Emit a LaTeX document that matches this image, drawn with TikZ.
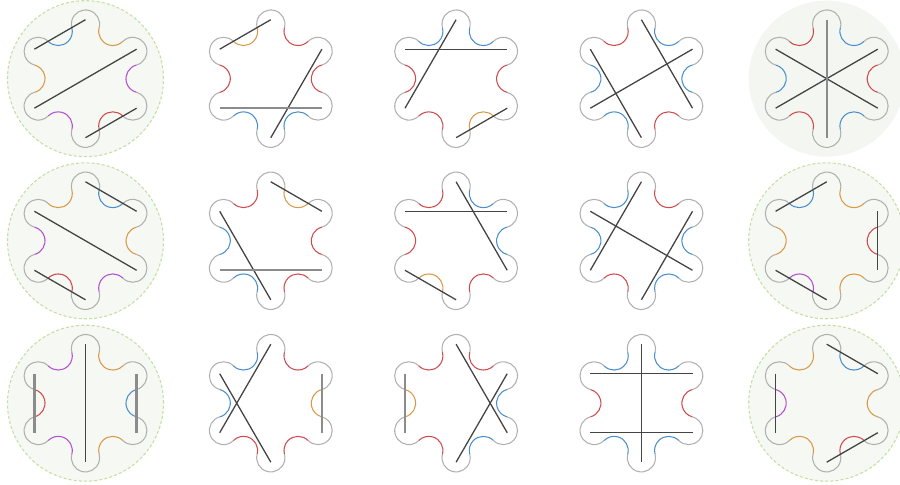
\documentclass[tikz,border=0pt]{standalone}
\usepackage{xcolor}
\usepackage{tikz}
\usetikzlibrary{calc}

\definecolor{lobegray}{HTML}{B0B0B0}
\definecolor{dblue}{HTML}{4A8FCC}
\definecolor{dorange}{HTML}{D99A48}
\definecolor{dred}{HTML}{D04A4C}
\definecolor{dpurple}{HTML}{B24FD2}
\definecolor{chordink}{HTML}{444444}
\definecolor{chordgray}{HTML}{8C8C8C}
\definecolor{platefill}{HTML}{F6F8F3}
\definecolor{plateline}{HTML}{C3DFA2}
\definecolor{softfill}{HTML}{F4F6F1}

\newcommand{\Rlobe}{54.6}
\newcommand{\rlobe}{14.13}
\newcommand{\Rend}{59}

% #1 centre name, #2..#7 dents at 60,0,-60,-120,180,120
\newcommand{\flower}[7]{%
  \foreach \a [count=\i] in {90,30,-30,-90,-150,150}{
    \draw[lobe] ($(#1)+(\a:\Rlobe)+(\a-105:\rlobe)$)
      arc[start angle=\a-105, delta angle=210, radius=\rlobe];
    \coordinate (#1-\i) at ($(#1)+(\a:\Rend)$);
  }
  \foreach \a/\c in {60/#2, 0/#3, -60/#4, -120/#5, 180/#6, 120/#7}{
    \draw[dent, \c] ($(#1)+(\a:\Rlobe)+(\a+105:\rlobe)$)
      arc[start angle=\a+105, delta angle=150, radius=\rlobe];
  }
}

\begin{document}
\begin{tikzpicture}[
  x=0.03cm, y=0.03cm,
  lobe/.style={lobegray, line width=0.9pt},
  dent/.style={line width=0.9pt},
  chord/.style={chordink, line width=1.1pt},
  thickchord/.style={chordgray, line width=1.9pt},
  plate/.style={fill=platefill, draw=plateline, line width=0.9pt,
                dash pattern=on 2.6pt off 1.8pt},
  softplate/.style={fill=softfill},
]
\useasboundingbox (0,0) rectangle (900,485);

\foreach \row/\y in {a/406.3, b/244.2, c/81.8}
  \foreach \col/\x in {1/85.5, 2/270.8, 3/456.1, 4/641.4, 5/826.7}
    \coordinate (\row\col) at (\x,\y);

\foreach \p in {a1, b1, b5, c1, c5}{ \draw[plate] (\p) circle[radius=78]; }
\fill[softplate] (a5) circle[radius=78];

\flower{a1}{dorange}{dpurple}{dred}{dpurple}{dorange}{dblue}
\flower{a2}{dred}{dred}{dblue}{dblue}{dred}{dorange}
\flower{a3}{dblue}{dred}{dorange}{dred}{dred}{dblue}
\flower{a4}{dblue}{dblue}{dred}{dblue}{dblue}{dred}
\flower{a5}{dblue}{dred}{dblue}{dred}{dblue}{dred}

\flower{b1}{dblue}{dorange}{dpurple}{dred}{dpurple}{dorange}
\flower{b2}{dorange}{dred}{dred}{dblue}{dblue}{dred}
\flower{b3}{dblue}{dblue}{dred}{dorange}{dred}{dred}
\flower{b4}{dred}{dblue}{dblue}{dred}{dblue}{dblue}
\flower{b5}{dorange}{dred}{dorange}{dpurple}{dorange}{dblue}

\flower{c1}{dorange}{dblue}{dorange}{dpurple}{dred}{dpurple}
\flower{c2}{dred}{dorange}{dred}{dred}{dblue}{dblue}
\flower{c3}{dred}{dblue}{dblue}{dred}{dorange}{dred}
\flower{c4}{dblue}{dred}{dblue}{dblue}{dred}{dblue}
\flower{c5}{dblue}{dorange}{dred}{dorange}{dpurple}{dorange}

\foreach \s/\t in {a1-1/a1-6, a1-2/a1-5, a1-3/a1-4,
                   a2-1/a2-6, a2-2/a2-4,
                   a3-6/a3-2, a3-1/a3-5, a3-3/a3-4,
                   a4-1/a4-3, a4-6/a4-4, a4-2/a4-5,
                   a5-6/a5-3, a5-2/a5-5,
                   b1-1/b1-2, b1-6/b1-3, b1-5/b1-4,
                   b2-1/b2-2, b2-6/b2-4,
                   b3-6/b3-2, b3-1/b3-3, b3-5/b3-4,
                   b4-1/b4-5, b4-6/b4-3, b4-2/b4-4,
                   b5-1/b5-6, b5-2/b5-3, b5-5/b5-4,
                   c1-1/c1-4,
                   c2-1/c2-5, c2-6/c2-4,
                   c3-1/c3-3, c3-2/c3-4,
                   c4-1/c4-4, c4-6/c4-2, c4-5/c4-3,
                   c5-1/c5-2, c5-6/c5-5, c5-3/c5-4}{ \draw[chord] (\s) -- (\t); }

\foreach \s/\t in {a2-5/a2-3, a5-1/a5-4, b2-5/b2-3,
                   c1-6/c1-5, c1-2/c1-3, c2-2/c2-3,
                   c3-6/c3-5}{ \draw[thickchord] (\s) -- (\t); }

\end{tikzpicture}
\end{document}
